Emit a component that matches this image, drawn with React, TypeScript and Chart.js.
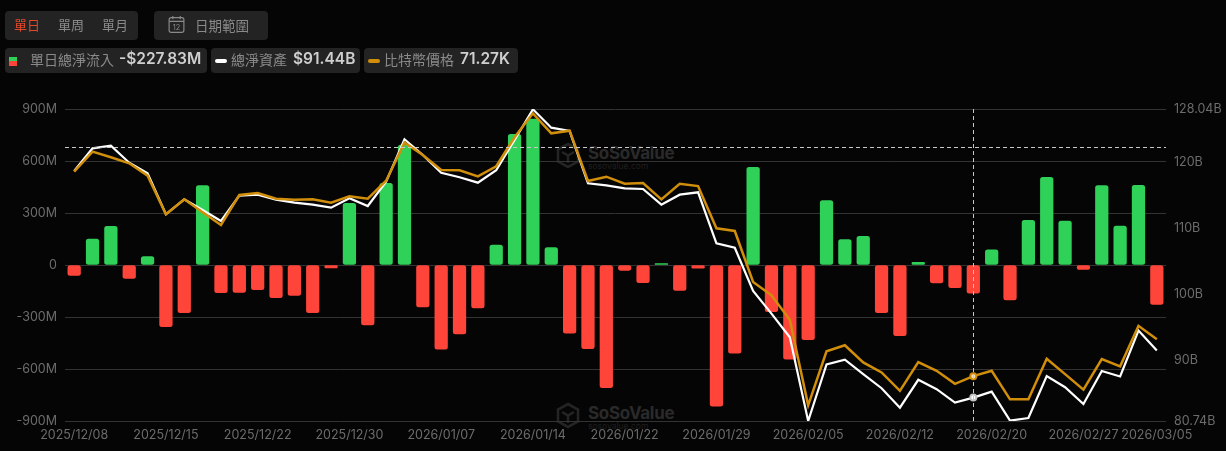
import React, { useEffect, useRef } from "react";
import { Chart, registerables } from "chart.js";

Chart.register(...registerables);

const dates = [
  "2025/12/08","2025/12/09","2025/12/10","2025/12/11","2025/12/12",
  "2025/12/15","2025/12/16","2025/12/17","2025/12/18","2025/12/19",
  "2025/12/22","2025/12/23","2025/12/24","2025/12/26","2025/12/29",
  "2025/12/30","2025/12/31","2026/01/02","2026/01/05","2026/01/06",
  "2026/01/07","2026/01/08","2026/01/09","2026/01/12","2026/01/13",
  "2026/01/14","2026/01/15","2026/01/16","2026/01/20","2026/01/21",
  "2026/01/22","2026/01/23","2026/01/26","2026/01/27","2026/01/28",
  "2026/01/29","2026/01/30","2026/02/02","2026/02/03","2026/02/04",
  "2026/02/05","2026/02/06","2026/02/09","2026/02/10","2026/02/11",
  "2026/02/12","2026/02/13","2026/02/17","2026/02/18","2026/02/19",
  "2026/02/20","2026/02/23","2026/02/24","2026/02/25","2026/02/26",
  "2026/02/27","2026/03/02","2026/03/03","2026/03/04","2026/03/05",
];

const shownDates = [
  "2025/12/08","2025/12/15","2025/12/22","2025/12/30","2026/01/07","2026/01/14","2026/01/22",
  "2026/01/29","2026/02/05","2026/02/12","2026/02/20","2026/02/27","2026/03/05",
];

// Daily total net inflow, $M
const netInflow = [
  -60,150,223,-77,48,-356,-275,458,-160,-158,
  -142,-188,-175,-275,-17,356,-346,471,692,-242,
  -485,-398,-248,115,754,842,100,-394,-483,-708,
  -31,-102,8,-146,-19,-815,-508,563,-269,-544,
  -431,371,146,165,-275,-408,15,-104,-131,-163,
  87,-202,258,506,254,-25,458,225,460,-227.83,
];

// Total net assets, $B
const netAssets = [
  118.64,122.08,122.48,119.9,118.29,112.08,114.35,112.73,111.06,114.9,
  115.05,114.29,113.84,113.53,113.08,114.5,113.33,117.02,123.45,121.07,
  118.38,117.69,116.87,118.75,123.34,127.99,125.21,124.7,116.78,116.47,
  116.02,115.91,113.53,115.05,115.41,107.68,107.01,100.46,97.01,93.43,
  80.74,89.32,90.03,87.85,85.71,82.76,86.99,85.56,83.53,84.29,
  85.2,80.8,81.2,87.55,85.86,83.32,88.31,87.49,94.46,91.44,
];

// Bitcoin price, $K
const btcPrice = [
  90.29,92.56,91.92,91.24,89.83,85.45,87.15,85.68,84.24,87.64,
  87.87,87.22,87.11,87.15,86.77,87.49,87.22,89.26,93.58,92.18,
  90.48,90.44,89.76,90.9,94.19,96.91,94.64,94.94,89.23,89.72,
  88.92,89.0,87.15,88.92,88.66,83.86,83.56,77.78,76.26,73.48,
  63.78,69.91,70.59,68.65,67.51,65.42,68.69,67.7,66.22,67.09,
  67.7,64.46,64.46,69.07,67.32,65.56,69.03,68.2,72.8,71.27,
];

const leftTicks = [-900,-600,-300,0,300,600,900];
const rightTicks = [80.74,90,100,110,120,128.04];
const hoverDate = "2026/02/19";
const hoverFlow = 680;

const GREEN = "#30d158";
const RED = "#ff453a";
const ORANGE = "#d18e0a";
const CJK = '"Noto Sans CJK TC", sans-serif';
const LATIN = 'Inter, "Noto Sans CJK TC", sans-serif';

const crosshair = {
  id: "crosshair",
  afterDatasetsDraw(chart: any) {
    const { ctx, chartArea: a, scales } = chart;
    const x = scales.x.getPixelForValue(dates.indexOf(hoverDate));
    const y = Math.round(scales.y.getPixelForValue(hoverFlow)) + 0.5;
    ctx.save();
    ctx.strokeStyle = "#c8c8c8";
    ctx.lineWidth = 1;
    ctx.setLineDash([4, 3]);
    ctx.beginPath();
    ctx.moveTo(a.left, y);
    ctx.lineTo(a.right, y);
    ctx.moveTo(Math.round(x) + 0.5, a.top);
    ctx.lineTo(Math.round(x) + 0.5, a.bottom);
    ctx.stroke();
    ctx.restore();
  },
};

const abs = (left: number, top: number, width: number, height: number): React.CSSProperties => ({
  position: "absolute", left, top, width, height,
});

function Label({ x, y, text, color = "#8a8a8a", size = 13, weight = 400, font = CJK }: any) {
  return (
    <span style={{ position: "absolute", left: x, top: y, color, fontSize: size, fontWeight: weight, fontFamily: font, lineHeight: "18px", whiteSpace: "nowrap" }}>
      {text}
    </span>
  );
}

function Pill({ x, y, w, h }: any) {
  return <div style={{ ...abs(x, y, w, h), background: "#232323", borderRadius: 4 }} />;
}

function Watermark({ x, y }: any) {
  return (
    <div style={{ ...abs(x, y, 120, 30) }}>
      <svg width="24" height="27" viewBox="0 0 24 27" style={{ position: "absolute", left: 0, top: 0 }}>
        <path d="M12 2 L22 7.5 V19.5 L12 25 L2 19.5 V7.5 Z" fill="none" stroke="#242424" strokeWidth="2.6" />
        <path d="M6 10 L12 13.5 L18 10 M12 13.5 V21" fill="none" stroke="#242424" strokeWidth="2.6" />
      </svg>
      <span style={{ position: "absolute", left: 32, top: 1, color: "#2a2a2a", fontFamily: LATIN, fontSize: 17, fontWeight: 700, lineHeight: "20px", letterSpacing: -0.3 }}>SoSoValue</span>
      <span style={{ position: "absolute", left: 32, top: 19, color: "#1f1f1f", fontFamily: LATIN, fontSize: 8.5, lineHeight: "10px" }}>sosovalue.com</span>
    </div>
  );
}

export default function App() {
  const ref = useRef<HTMLCanvasElement>(null);

  useEffect(() => {
    document.body.style.margin = "0";
    document.body.style.background = "#050505";
    const hoverIndex = dates.indexOf(hoverDate);
    const tickFont = { family: LATIN, size: 12.5 };
    const chart = new Chart(ref.current!, {
      type: "bar",
      data: {
        labels: dates,
        datasets: [
          {
            type: "line",
            label: "比特幣價格",
            data: btcPrice,
            yAxisID: "yBtc",
            borderColor: ORANGE,
            backgroundColor: "#f3e3c3",
            borderWidth: 2.5,
            tension: 0,
            order: 1,
            pointRadius: (c: any) => (c.dataIndex === hoverIndex ? 3 : 0),
            pointBorderWidth: 2,
            pointBorderColor: ORANGE,
          },
          {
            type: "line",
            label: "總淨資產",
            data: netAssets,
            yAxisID: "yAssets",
            borderColor: "#ffffff",
            backgroundColor: "#ffffff",
            borderWidth: 2.2,
            tension: 0,
            order: 2,
            pointRadius: (c: any) => (c.dataIndex === hoverIndex ? 3 : 0),
            pointBorderWidth: 2,
            pointBorderColor: "#c4c4c4",
          },
          {
            type: "bar",
            label: "單日總淨流入",
            data: netInflow,
            yAxisID: "y",
            backgroundColor: netInflow.map((v) => (v >= 0 ? GREEN : RED)),
            barThickness: 12.6,
            borderRadius: 2.5,
            borderSkipped: false,
            order: 3,
          },
        ] as any,
      },
      options: {
        animation: false,
        responsive: false,
        layout: { padding: { top: 109, left: 0, right: 0, bottom: 0 } },
        plugins: { legend: { display: false }, tooltip: { enabled: false } },
        scales: {
          x: {
            offset: true,
            grid: { display: false, drawTicks: false },
            border: { display: false },
            ticks: {
              autoSkip: false,
              maxRotation: 0,
              minRotation: 0,
              padding: 7,
              color: "#6c6c6c",
              font: tickFont,
              callback(this: any, v: any) {
                const s = dates[v as number];
                return shownDates.includes(s) ? s : "";
              },
            },
            afterFit(s: any) { s.height = 30; },
          },
          y: {
            position: "left",
            min: -900,
            max: 900,
            grid: { color: "#333333", lineWidth: 1, drawTicks: false },
            border: { display: false },
            afterBuildTicks(s: any) { s.ticks = leftTicks.map((value) => ({ value })); },
            ticks: {
              padding: 8,
              color: "#6c6c6c",
              font: tickFont,
              callback: (v: any) => (v === 0 ? "0" : `${v}M`),
            },
            afterFit(s: any) { s.width = 65; },
          },
          yAssets: {
            position: "right",
            min: 80.74,
            max: 128.04,
            grid: { display: false, drawTicks: false },
            border: { display: false },
            afterBuildTicks(s: any) { s.ticks = rightTicks.map((value) => ({ value })); },
            ticks: {
              padding: 8,
              color: "#6c6c6c",
              font: tickFont,
              callback: (v: any) => `${v}B`,
            },
            afterFit(s: any) { s.width = 60; },
          },
          yBtc: { display: false, min: 62, max: 97.4 },
        },
      } as any,
      plugins: [crosshair],
    });
    return () => chart.destroy();
  }, []);

  return (
    <div style={{ position: "relative", width: 1226, height: 451, background: "#050505", overflow: "hidden" }}>
      <Watermark x={556} y={142} />
      <Watermark x={556} y={402} />
      <canvas ref={ref} width={1226} height={451} style={{ position: "absolute", left: 0, top: 0, width: 1226, height: 451 }} />

      <Pill x={5} y={11} w={133} h={29} />
      <Label x={14} y={16} text="單日" color="#e0482a" />
      <Label x={58} y={16} text="單周" />
      <Label x={102} y={16} text="單月" />

      <Pill x={154} y={11} w={114} h={29} />
      <svg width="17" height="19" viewBox="0 0 16 18" style={{ position: "absolute", left: 168, top: 15 }}>
        <rect x="1" y="2.5" width="14" height="14" rx="2" fill="none" stroke="#8a8a8a" strokeWidth="1.1" />
        <path d="M1 6 H15 M4.5 1 V4 M11.5 1 V4" stroke="#8a8a8a" strokeWidth="1.1" />
        <text x="8" y="14.5" textAnchor="middle" fontSize="7" fill="#8a8a8a" fontFamily="Inter">12</text>
      </svg>
      <Label x={195} y={16} text="日期範圍" size={13.5} />

      <Pill x={5} y={48} w={202} h={25} />
      <div style={{ ...abs(9, 57, 8, 4), background: GREEN }} />
      <div style={{ ...abs(9, 61, 8, 4.5), background: RED }} />
      <Label x={30} y={50} text="單日總淨流入" size={14} />
      <Label x={119} y={50} text="-$227.83M" size={15.5} weight={600} color="#cfcfcf" font={LATIN} />

      <Pill x={211} y={48} w={149} h={25} />
      <div style={{ ...abs(215, 59, 12, 4), background: "#ffffff", borderRadius: 2 }} />
      <Label x={231} y={50} text="總淨資產" size={14} />
      <Label x={293} y={50} text="$91.44B" size={15.5} weight={600} color="#cfcfcf" font={LATIN} />

      <Pill x={364} y={48} w={154} h={25} />
      <div style={{ ...abs(368, 59, 12, 4), background: ORANGE, borderRadius: 2 }} />
      <Label x={384} y={50} text="比特幣價格" size={14} />
      <Label x={460} y={50} text="71.27K" size={15.5} weight={600} color="#cfcfcf" font={LATIN} />
    </div>
  );
}
